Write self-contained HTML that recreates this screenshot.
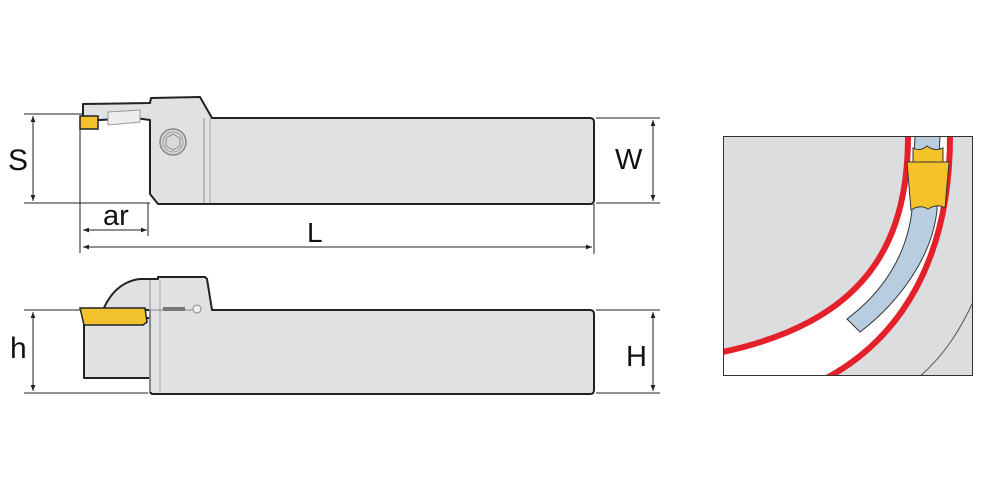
<!DOCTYPE html>
<html><head><meta charset="utf-8"><style>
html,body{margin:0;padding:0;background:#fff;}
svg{display:block;}
text{font-family:"Liberation Sans",sans-serif;fill:#111;}
</style></head><body>
<svg width="1000" height="500" viewBox="0 0 1000 500" xmlns="http://www.w3.org/2000/svg">
<defs>
<marker id="a" viewBox="0 0 10 10" refX="10" refY="5" markerWidth="6" markerHeight="6" orient="auto-start-reverse"><path d="M0,1 L10,5 L0,9 z" fill="#222"/></marker>
</defs>
<!-- TOP VIEW -->
<g stroke="#222" stroke-width="2" fill="#dfe1e3" stroke-linejoin="round">
<path d="M83,107 L83,104 L150,103 L151,98 L200,97 L212,118 L590,118 Q594,118 594,122 L594,200 Q594,204 590,204 L158,204 L150,194 L150,120 L135,118 L100,120 L83,120 Z"/>
</g>
<line x1="204" y1="118" x2="204" y2="203" stroke="#aaa" stroke-width="1.5"/>
<line x1="210" y1="118" x2="210" y2="203" stroke="#aaa" stroke-width="1"/>
<path d="M108,112 L140,110 L140,122 L108,125 Z" fill="#eceeef" stroke="#999" stroke-width="1"/>
<rect x="80" y="116" width="18" height="13" fill="#f2c12e" stroke="#222" stroke-width="1.5"/>
<circle cx="173" cy="142" r="13" fill="#d8dadc" stroke="#888" stroke-width="1.5"/>
<circle cx="173" cy="142" r="10" fill="none" stroke="#999" stroke-width="1"/>
<polygon points="173,134 180,138 180,146 173,150 166,146 166,138" fill="none" stroke="#888" stroke-width="1"/>
<!-- dims top -->
<g stroke="#222" stroke-width="1">
<line x1="24" y1="114" x2="82" y2="114"/>
<line x1="24" y1="203" x2="150" y2="203"/>
<line x1="33" y1="116" x2="33" y2="201" marker-start="url(#a)" marker-end="url(#a)"/>
<line x1="80" y1="116" x2="80" y2="253"/>
<line x1="148" y1="203" x2="148" y2="236"/>
<line x1="83" y1="230" x2="147" y2="230" marker-start="url(#a)" marker-end="url(#a)"/>
<line x1="83" y1="247" x2="592" y2="247" marker-start="url(#a)" marker-end="url(#a)"/>
<line x1="594" y1="204" x2="594" y2="254"/>
<line x1="596" y1="118" x2="660" y2="118"/>
<line x1="596" y1="203" x2="660" y2="203"/>
<line x1="653" y1="120" x2="653" y2="201" marker-start="url(#a)" marker-end="url(#a)"/>
</g>
<text x="8" y="170" font-size="30">S</text>
<text x="103" y="225" font-size="29">ar</text>
<text x="307" y="242" font-size="28">L</text>
<text x="615" y="169" font-size="29">W</text>
<!-- BOTTOM VIEW -->
<g stroke="#222" stroke-width="2" fill="#dfe1e3" stroke-linejoin="round">
<path d="M84,318 L150,318 L150,378 L84,378 Z"/>
<path d="M103,310 Q115,282 140,279 L158,279 L158,277 L205,277 L207,279 L212,310 L590,310 Q594,310 594,314 L594,390 Q594,394 590,394 L152,394 L150,392 L150,310 Z"/>
</g>
<line x1="150" y1="280" x2="150" y2="392" stroke="#aaa" stroke-width="1.5"/>
<line x1="160" y1="280" x2="160" y2="392" stroke="#aaa" stroke-width="1"/>
<line x1="150" y1="310" x2="196" y2="310" stroke="#888" stroke-width="1"/>
<rect x="163" y="307" width="22" height="4" fill="#777"/>
<circle cx="197" cy="309" r="4" fill="#eee" stroke="#888" stroke-width="1"/>
<path d="M80,308 L145,308 L147,322 L143,325 L84,325 Z" fill="#f2c12e" stroke="#222" stroke-width="1.5"/>
<g stroke="#222" stroke-width="1">
<line x1="24" y1="310" x2="80" y2="310"/>
<line x1="24" y1="393" x2="148" y2="393"/>
<line x1="33" y1="312" x2="33" y2="391" marker-start="url(#a)" marker-end="url(#a)"/>
<line x1="596" y1="310" x2="660" y2="310"/>
<line x1="596" y1="393" x2="660" y2="393"/>
<line x1="653" y1="312" x2="653" y2="391" marker-start="url(#a)" marker-end="url(#a)"/>
</g>
<text x="10" y="358" font-size="30">h</text>
<text x="626" y="366" font-size="29">H</text>
<!-- RIGHT PANEL -->
<svg x="723" y="136" width="250" height="240" viewBox="723 136 250 240">
<rect x="723" y="136" width="250" height="240" fill="#dcdddf"/>
<path d="M908,136 C908,250 860,322 723,352 L723,380 L823,380 C900,340 950,260 950,136 Z" fill="#fff"/>
<path d="M975,298 C960,330 945,355 918,378" fill="none" stroke="#555" stroke-width="1"/>
<path d="M915,136 L940,136 L937,210 C932,258 898,303 860,332 L847,319 C883,292 907,255 912,210 Z" fill="#b8cde0" stroke="#333" stroke-width="1"/>
<path d="M908,136 C908,250 860,322 723,352" fill="none" stroke="#e4202a" stroke-width="6"/>
<path d="M950,136 C950,260 900,340 823,380" fill="none" stroke="#e4202a" stroke-width="6"/>
<path d="M913,148 Q920,152 927,146 Q935,152 943,148 L943,168 L913,168 Z" fill="#f5c22a" stroke="#333" stroke-width="1"/>
<path d="M907,162 L949,162 L945,208 Q938,203 928,209 Q920,204 911,210 Z" fill="#f5c22a" stroke="#333" stroke-width="1"/>
<rect x="723.5" y="136.5" width="249" height="239" fill="none" stroke="#333" stroke-width="1"/>
</svg>
</svg>
</body></html>
